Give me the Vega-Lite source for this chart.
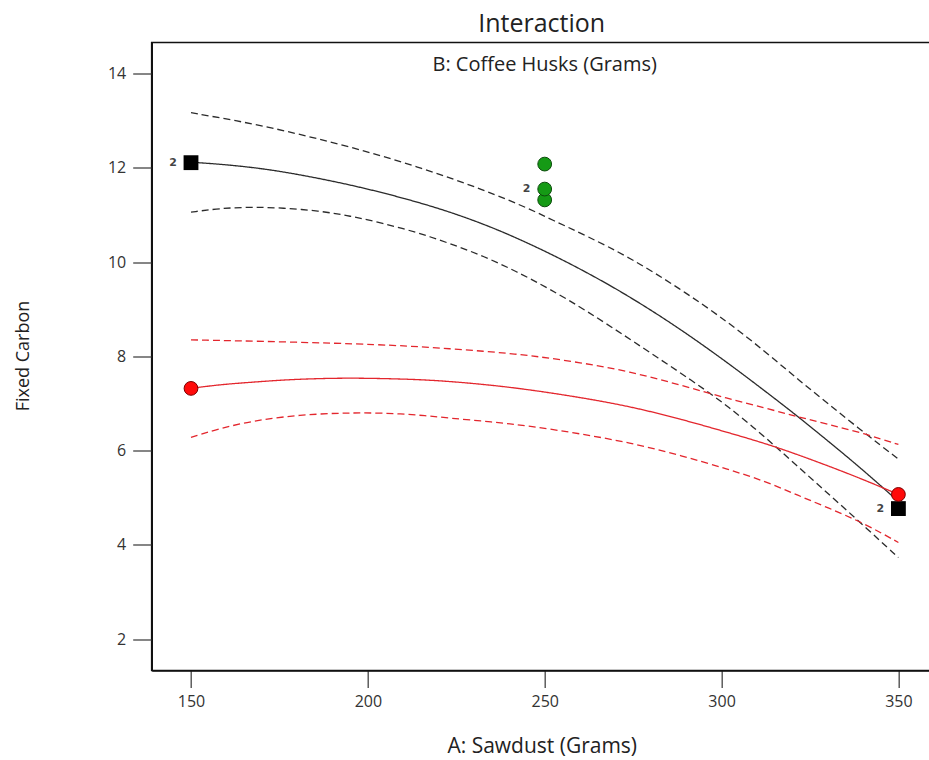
{
  "$schema": "https://vega.github.io/schema/vega-lite/v6.json",
  "width": 780,
  "height": 628,
  "autosize": {"type": "none"},
  "padding": {"left": 151.7, "top": 42.5, "right": 0, "bottom": 89.5},
  "background": "white",
  "config": {"view": {"stroke": "#111", "strokeWidth": 1.6}, "font": "Open Sans"},
  "title": {"text": "Interaction", "fontSize": 25, "font": "Open Sans", "fontWeight": "normal", "color": "#222", "anchor": "middle", "offset": 6},
  "datasets": {
    "lines": [
      {"series": "b_fit", "level": "low", "kind": "fit", "x": 150, "y": 12.12},
      {"series": "b_fit", "level": "low", "kind": "fit", "x": 160, "y": 12.07},
      {"series": "b_fit", "level": "low", "kind": "fit", "x": 172, "y": 11.97},
      {"series": "b_fit", "level": "low", "kind": "fit", "x": 184, "y": 11.81},
      {"series": "b_fit", "level": "low", "kind": "fit", "x": 195, "y": 11.64},
      {"series": "b_fit", "level": "low", "kind": "fit", "x": 206, "y": 11.44},
      {"series": "b_fit", "level": "low", "kind": "fit", "x": 218, "y": 11.19},
      {"series": "b_fit", "level": "low", "kind": "fit", "x": 228, "y": 10.94},
      {"series": "b_fit", "level": "low", "kind": "fit", "x": 238, "y": 10.65},
      {"series": "b_fit", "level": "low", "kind": "fit", "x": 250, "y": 10.24},
      {"series": "b_fit", "level": "low", "kind": "fit", "x": 262, "y": 9.78},
      {"series": "b_fit", "level": "low", "kind": "fit", "x": 274, "y": 9.27},
      {"series": "b_fit", "level": "low", "kind": "fit", "x": 288, "y": 8.60},
      {"series": "b_fit", "level": "low", "kind": "fit", "x": 302, "y": 7.85},
      {"series": "b_fit", "level": "low", "kind": "fit", "x": 312, "y": 7.28},
      {"series": "b_fit", "level": "low", "kind": "fit", "x": 321, "y": 6.76},
      {"series": "b_fit", "level": "low", "kind": "fit", "x": 330, "y": 6.21},
      {"series": "b_fit", "level": "low", "kind": "fit", "x": 340, "y": 5.59},
      {"series": "b_fit", "level": "low", "kind": "fit", "x": 350, "y": 4.92},

      {"series": "b_up", "level": "low", "kind": "ci", "x": 150, "y": 13.17},
      {"series": "b_up", "level": "low", "kind": "ci", "x": 163, "y": 13.00},
      {"series": "b_up", "level": "low", "kind": "ci", "x": 176, "y": 12.80},
      {"series": "b_up", "level": "low", "kind": "ci", "x": 195, "y": 12.45},
      {"series": "b_up", "level": "low", "kind": "ci", "x": 214, "y": 12.03},
      {"series": "b_up", "level": "low", "kind": "ci", "x": 233, "y": 11.53},
      {"series": "b_up", "level": "low", "kind": "ci", "x": 246, "y": 11.12},
      {"series": "b_up", "level": "low", "kind": "ci", "x": 252, "y": 10.90},
      {"series": "b_up", "level": "low", "kind": "ci", "x": 262, "y": 10.55},
      {"series": "b_up", "level": "low", "kind": "ci", "x": 274, "y": 10.10},
      {"series": "b_up", "level": "low", "kind": "ci", "x": 288, "y": 9.45},
      {"series": "b_up", "level": "low", "kind": "ci", "x": 302, "y": 8.72},
      {"series": "b_up", "level": "low", "kind": "ci", "x": 312, "y": 8.12},
      {"series": "b_up", "level": "low", "kind": "ci", "x": 321, "y": 7.55},
      {"series": "b_up", "level": "low", "kind": "ci", "x": 330, "y": 7.00},
      {"series": "b_up", "level": "low", "kind": "ci", "x": 340, "y": 6.40},
      {"series": "b_up", "level": "low", "kind": "ci", "x": 350, "y": 5.82},

      {"series": "b_lo", "level": "low", "kind": "ci", "x": 150, "y": 11.06},
      {"series": "b_lo", "level": "low", "kind": "ci", "x": 158, "y": 11.14},
      {"series": "b_lo", "level": "low", "kind": "ci", "x": 167, "y": 11.17},
      {"series": "b_lo", "level": "low", "kind": "ci", "x": 176, "y": 11.15},
      {"series": "b_lo", "level": "low", "kind": "ci", "x": 186, "y": 11.09},
      {"series": "b_lo", "level": "low", "kind": "ci", "x": 195, "y": 10.98},
      {"series": "b_lo", "level": "low", "kind": "ci", "x": 204, "y": 10.83},
      {"series": "b_lo", "level": "low", "kind": "ci", "x": 214, "y": 10.63},
      {"series": "b_lo", "level": "low", "kind": "ci", "x": 223, "y": 10.40},
      {"series": "b_lo", "level": "low", "kind": "ci", "x": 233, "y": 10.12},
      {"series": "b_lo", "level": "low", "kind": "ci", "x": 242, "y": 9.80},
      {"series": "b_lo", "level": "low", "kind": "ci", "x": 251, "y": 9.45},
      {"series": "b_lo", "level": "low", "kind": "ci", "x": 262, "y": 8.96},
      {"series": "b_lo", "level": "low", "kind": "ci", "x": 274, "y": 8.37},
      {"series": "b_lo", "level": "low", "kind": "ci", "x": 293, "y": 7.42},
      {"series": "b_lo", "level": "low", "kind": "ci", "x": 302, "y": 6.93},
      {"series": "b_lo", "level": "low", "kind": "ci", "x": 312, "y": 6.31},
      {"series": "b_lo", "level": "low", "kind": "ci", "x": 321, "y": 5.70},
      {"series": "b_lo", "level": "low", "kind": "ci", "x": 331, "y": 5.03},
      {"series": "b_lo", "level": "low", "kind": "ci", "x": 340, "y": 4.42},
      {"series": "b_lo", "level": "low", "kind": "ci", "x": 350, "y": 3.73},

      {"series": "r_fit", "level": "high", "kind": "fit", "x": 150, "y": 7.32},
      {"series": "r_fit", "level": "high", "kind": "fit", "x": 158, "y": 7.40},
      {"series": "r_fit", "level": "high", "kind": "fit", "x": 167, "y": 7.45},
      {"series": "r_fit", "level": "high", "kind": "fit", "x": 176, "y": 7.50},
      {"series": "r_fit", "level": "high", "kind": "fit", "x": 186, "y": 7.53},
      {"series": "r_fit", "level": "high", "kind": "fit", "x": 195, "y": 7.54},
      {"series": "r_fit", "level": "high", "kind": "fit", "x": 204, "y": 7.53},
      {"series": "r_fit", "level": "high", "kind": "fit", "x": 214, "y": 7.51},
      {"series": "r_fit", "level": "high", "kind": "fit", "x": 223, "y": 7.47},
      {"series": "r_fit", "level": "high", "kind": "fit", "x": 235, "y": 7.39},
      {"series": "r_fit", "level": "high", "kind": "fit", "x": 246, "y": 7.29},
      {"series": "r_fit", "level": "high", "kind": "fit", "x": 260, "y": 7.13},
      {"series": "r_fit", "level": "high", "kind": "fit", "x": 274, "y": 6.94},
      {"series": "r_fit", "level": "high", "kind": "fit", "x": 288, "y": 6.68},
      {"series": "r_fit", "level": "high", "kind": "fit", "x": 302, "y": 6.38},
      {"series": "r_fit", "level": "high", "kind": "fit", "x": 312, "y": 6.16},
      {"series": "r_fit", "level": "high", "kind": "fit", "x": 321, "y": 5.93},
      {"series": "r_fit", "level": "high", "kind": "fit", "x": 330, "y": 5.68},
      {"series": "r_fit", "level": "high", "kind": "fit", "x": 340, "y": 5.39},
      {"series": "r_fit", "level": "high", "kind": "fit", "x": 350, "y": 5.07},

      {"series": "r_up", "level": "high", "kind": "ci", "x": 150, "y": 8.35},
      {"series": "r_up", "level": "high", "kind": "ci", "x": 176, "y": 8.31},
      {"series": "r_up", "level": "high", "kind": "ci", "x": 204, "y": 8.25},
      {"series": "r_up", "level": "high", "kind": "ci", "x": 218, "y": 8.19},
      {"series": "r_up", "level": "high", "kind": "ci", "x": 233, "y": 8.11},
      {"series": "r_up", "level": "high", "kind": "ci", "x": 246, "y": 8.02},
      {"series": "r_up", "level": "high", "kind": "ci", "x": 260, "y": 7.87},
      {"series": "r_up", "level": "high", "kind": "ci", "x": 274, "y": 7.68},
      {"series": "r_up", "level": "high", "kind": "ci", "x": 288, "y": 7.40},
      {"series": "r_up", "level": "high", "kind": "ci", "x": 302, "y": 7.10},
      {"series": "r_up", "level": "high", "kind": "ci", "x": 312, "y": 6.91},
      {"series": "r_up", "level": "high", "kind": "ci", "x": 321, "y": 6.73},
      {"series": "r_up", "level": "high", "kind": "ci", "x": 330, "y": 6.56},
      {"series": "r_up", "level": "high", "kind": "ci", "x": 340, "y": 6.37},
      {"series": "r_up", "level": "high", "kind": "ci", "x": 350, "y": 6.13},

      {"series": "r_lo", "level": "high", "kind": "ci", "x": 150, "y": 6.28},
      {"series": "r_lo", "level": "high", "kind": "ci", "x": 158, "y": 6.47},
      {"series": "r_lo", "level": "high", "kind": "ci", "x": 167, "y": 6.62},
      {"series": "r_lo", "level": "high", "kind": "ci", "x": 176, "y": 6.72},
      {"series": "r_lo", "level": "high", "kind": "ci", "x": 186, "y": 6.78},
      {"series": "r_lo", "level": "high", "kind": "ci", "x": 195, "y": 6.80},
      {"series": "r_lo", "level": "high", "kind": "ci", "x": 204, "y": 6.80},
      {"series": "r_lo", "level": "high", "kind": "ci", "x": 214, "y": 6.76},
      {"series": "r_lo", "level": "high", "kind": "ci", "x": 223, "y": 6.69},
      {"series": "r_lo", "level": "high", "kind": "ci", "x": 235, "y": 6.61},
      {"series": "r_lo", "level": "high", "kind": "ci", "x": 246, "y": 6.52},
      {"series": "r_lo", "level": "high", "kind": "ci", "x": 260, "y": 6.36},
      {"series": "r_lo", "level": "high", "kind": "ci", "x": 274, "y": 6.17},
      {"series": "r_lo", "level": "high", "kind": "ci", "x": 288, "y": 5.91},
      {"series": "r_lo", "level": "high", "kind": "ci", "x": 302, "y": 5.60},
      {"series": "r_lo", "level": "high", "kind": "ci", "x": 312, "y": 5.36},
      {"series": "r_lo", "level": "high", "kind": "ci", "x": 321, "y": 5.07},
      {"series": "r_lo", "level": "high", "kind": "ci", "x": 330, "y": 4.79},
      {"series": "r_lo", "level": "high", "kind": "ci", "x": 340, "y": 4.47},
      {"series": "r_lo", "level": "high", "kind": "ci", "x": 350, "y": 4.05}
    ],
    "points": [
      {"group": "low", "x": 150, "y": 12.11, "count": "2"},
      {"group": "low", "x": 350, "y": 4.77, "count": "2"},
      {"group": "center", "x": 250, "y": 12.08, "count": ""},
      {"group": "center", "x": 250, "y": 11.32, "count": ""},
      {"group": "center", "x": 250, "y": 11.55, "count": "2"},
      {"group": "high", "x": 150, "y": 7.32, "count": ""},
      {"group": "high", "x": 350, "y": 5.07, "count": ""}
    ],
    "labels": [
      {"x": 250, "y": 14.06, "text": "B: Coffee Husks (Grams)"}
    ]
  },
  "encoding": {
    "x": {
      "field": "x", "type": "quantitative",
      "scale": {"domain": [138.89, 359.41], "nice": false, "zero": false},
      "axis": {
        "title": "A: Sawdust (Grams)", "values": [150, 200, 250, 300, 350], "grid": false,
        "domainColor": "#111", "domainWidth": 1.6, "tickColor": "#444", "tickWidth": 1.3, "tickSize": 17,
        "labelFontSize": 16, "labelColor": "#333", "labelPadding": 6, "labelFont": "Open Sans",
        "titleFontSize": 21, "titleFontWeight": "normal", "titleColor": "#222", "titleFont": "Open Sans",
        "titleY": 82.5, "titleBaseline": "alphabetic"
      }
    },
    "y": {
      "field": "y", "type": "quantitative",
      "scale": {"domain": [1.334, 14.66], "nice": false, "zero": false},
      "axis": {
        "title": "Fixed Carbon", "values": [2, 4, 6, 8, 10, 12, 14], "grid": false,
        "domainColor": "#111", "domainWidth": 1.6, "tickColor": "#444", "tickWidth": 1.3, "tickSize": 19,
        "labelFontSize": 16, "labelColor": "#333", "labelPadding": 7, "labelFont": "Open Sans",
        "titleFontSize": 18, "titleFontWeight": "normal", "titleColor": "#222", "titleFont": "Open Sans",
        "titleX": -128, "titleY": 313, "titleBaseline": "middle"
      }
    }
  },
  "layer": [
    {
      "data": {"name": "lines"},
      "mark": {"type": "line", "interpolate": "basis", "strokeWidth": 1.3},
      "encoding": {
        "detail": {"field": "series", "type": "nominal"},
        "color": {"field": "level", "type": "nominal", "scale": {"domain": ["low", "high"], "range": ["#2b2b2b", "#e3262d"]}, "legend": null},
        "strokeDash": {"field": "kind", "type": "nominal", "scale": {"domain": ["fit", "ci"], "range": [[1, 0], [7, 4]]}, "legend": null}
      }
    },
    {
      "data": {"name": "points"},
      "transform": [{"filter": "datum.group === 'low'"}],
      "mark": {"type": "point", "shape": "square", "filled": true, "size": 220, "color": "#000", "opacity": 1}
    },
    {
      "data": {"name": "points"},
      "transform": [{"filter": "datum.group === 'center'"}],
      "mark": {"type": "point", "shape": "circle", "filled": true, "size": 190, "fill": "#159a15", "stroke": "#0b4a0b", "strokeWidth": 1, "opacity": 1}
    },
    {
      "data": {"name": "points"},
      "transform": [{"filter": "datum.group === 'high'"}],
      "mark": {"type": "point", "shape": "circle", "filled": true, "size": 190, "fill": "#ff0a0a", "stroke": "#7a0000", "strokeWidth": 1, "opacity": 1}
    },
    {
      "data": {"name": "points"},
      "transform": [{"filter": "datum.count !== ''"}],
      "mark": {"type": "text", "dx": -18, "fontSize": 11, "fontWeight": "bold", "color": "#444", "align": "center", "baseline": "middle", "font": "DejaVu Sans"},
      "encoding": {"text": {"field": "count"}}
    },
    {
      "data": {"name": "labels"},
      "mark": {"type": "text", "fontSize": 20, "color": "#222", "align": "center", "baseline": "alphabetic", "font": "Open Sans"},
      "encoding": {"text": {"field": "text"}}
    }
  ]
}
